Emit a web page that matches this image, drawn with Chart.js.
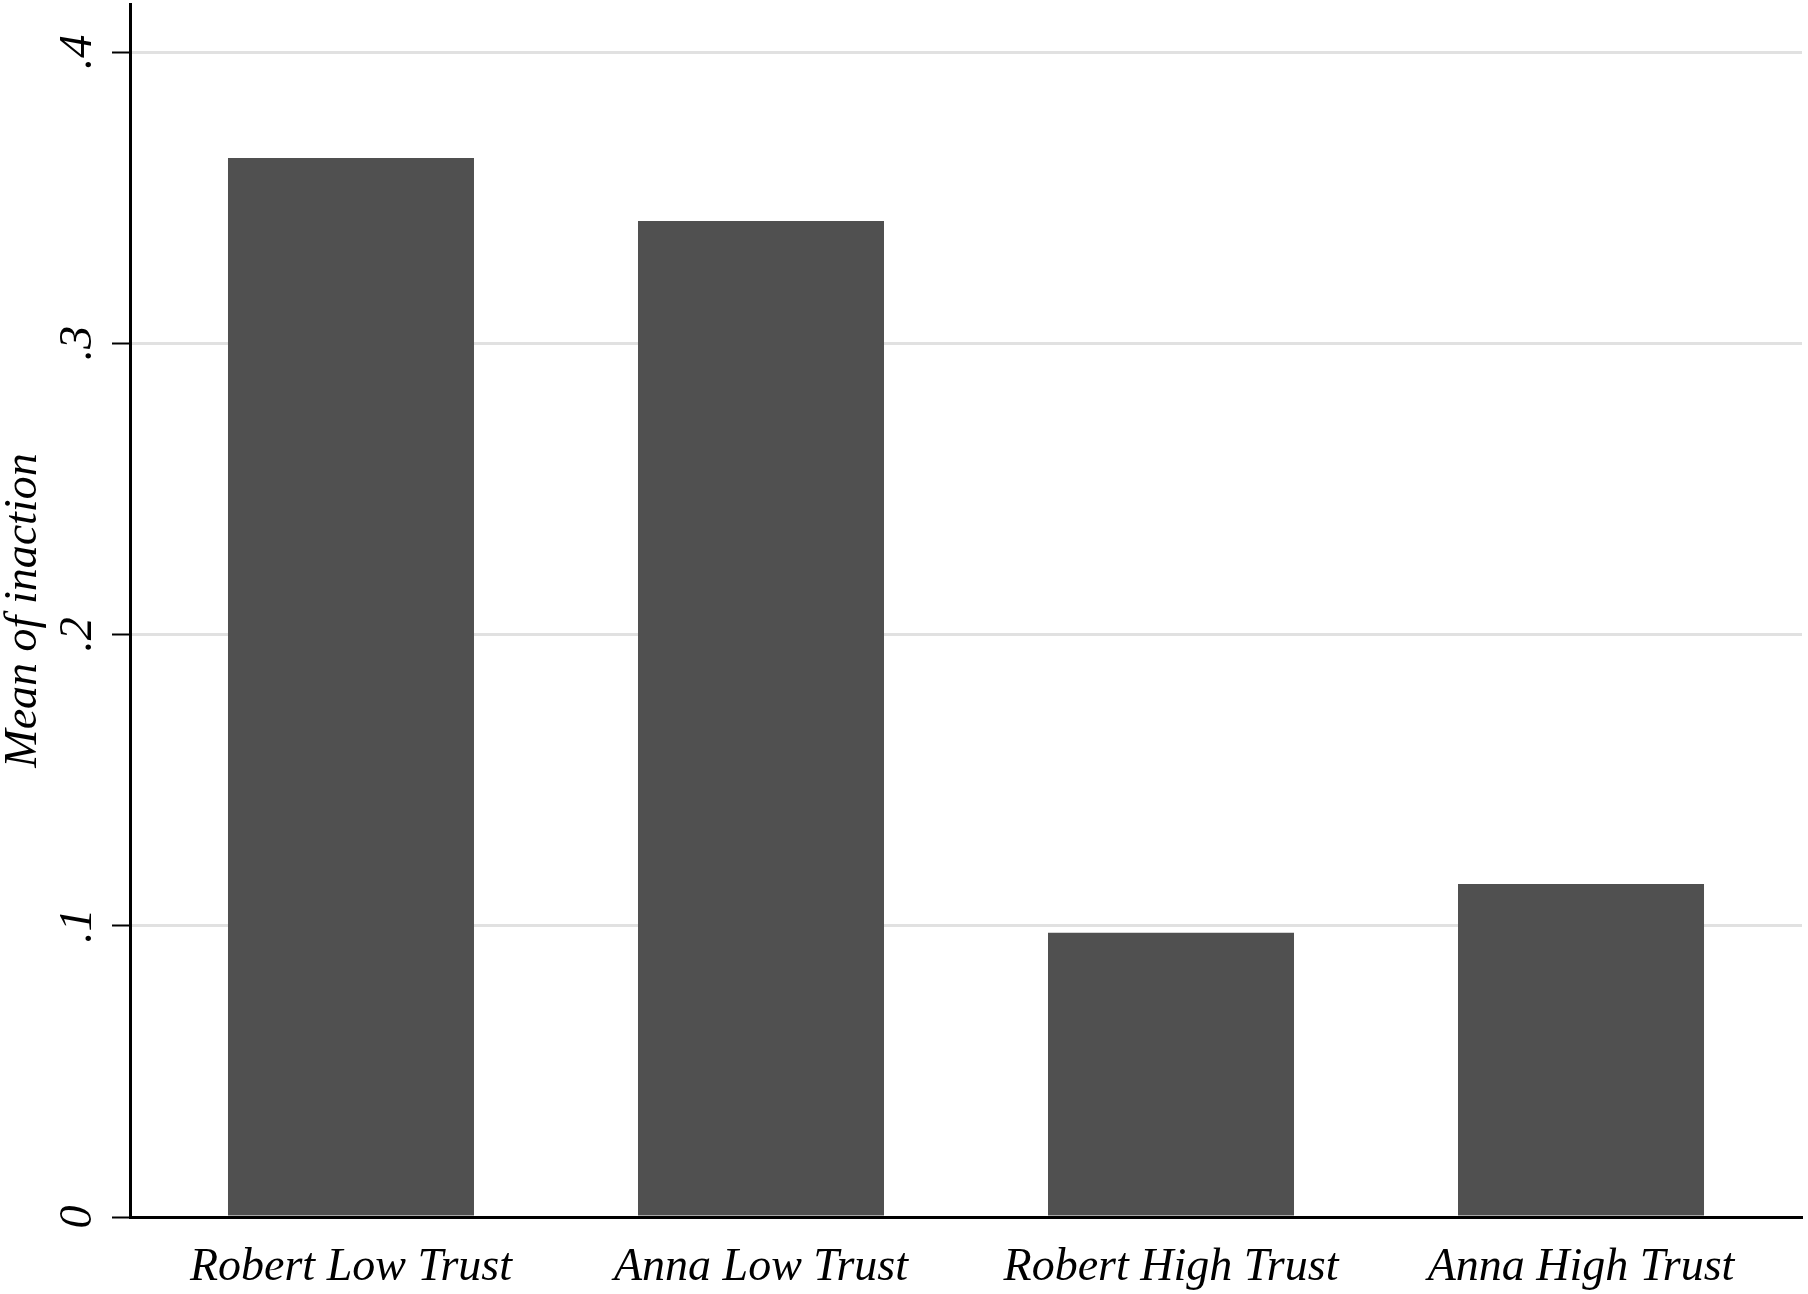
<!DOCTYPE html>
<html>
<head>
<meta charset="utf-8">
<script src="https://cdn.jsdelivr.net/npm/chart.js@4.4.1/dist/chart.umd.min.js"></script>
<style>
  html, body { margin: 0; padding: 0; background: #fff; }
  #wrap { width: 1808px; height: 1294px; }
</style>
</head>
<body>
<div id="wrap"><canvas id="barChart" width="1808" height="1294"></canvas></div>
<script>
const categories = ["Robert Low Trust", "Anna Low Trust", "Robert High Trust", "Anna High Trust"];
const inaction = [0.3636, 0.342, 0.0976, 0.1143]; // mean of inaction per group
const yTicks = [0, 0.1, 0.2, 0.3, 0.4];
const yTickLabels = ["0", ".1", ".2", ".3", ".4"];

const serif = "'Liberation Serif', 'Times New Roman', serif";
const italicFont = { family: serif, style: "italic", size: 46, lineHeight: 1 };

window.onload = function () {
  const ctx = document.getElementById("barChart").getContext("2d");

  new Chart(ctx, {
    type: "bar",
    data: {
      datasets: [
        {
          label: "Mean of inaction",
          data: inaction.map((v, i) => ({ x: i, y: v })),
          backgroundColor: "#505050",
          borderWidth: 0,
          barPercentage: 0.6,
          categoryPercentage: 1,
        },
      ],
    },
    options: {
      responsive: false,
      animation: false,
      devicePixelRatio: 1,
      layout: { padding: { top: 4, right: 6, bottom: 0, left: 0 } },
      plugins: {
        legend: { display: false },
        tooltip: { enabled: false },
      },
      scales: {
        x: {
          type: "linear",
          offset: false,
          min: -0.539,
          max: 3.539,
          afterBuildTicks: (s) => {
            s.ticks = categories.map((c, i) => ({ value: i }));
          },
          afterFit: (s) => {
            s.paddingLeft = 0;
            s.paddingRight = 0;
            s.height = 77;
          },
          grid: { display: false, drawTicks: false, offset: false },
          border: { color: "#000", width: 3 },
          ticks: {
            callback: (v) => categories[v],
            padding: 23,
            maxRotation: 0,
            autoSkip: false,
            color: "#000",
            font: { family: serif, style: "italic", size: 46 },
          },
        },
        y: {
          min: 0,
          max: 0.4165,
          afterBuildTicks: (s) => {
            s.ticks = yTicks.map((v) => ({ value: v }));
          },
          afterFit: (s) => {
            s.paddingTop = 0;
            s.paddingBottom = 0;
            s.width = 130;
          },
          grid: {
            color: "#e1e1e1",
            lineWidth: 3,
            tickLength: 18,
            tickColor: "#000",
            tickWidth: 2,
          },
          border: { color: "#000", width: 3 },
          ticks: {
            callback: (v, i) => yTickLabels[i],
            padding: 16,
            minRotation: 90,
            maxRotation: 90,
            crossAlign: "center",
            color: "#000",
            font: italicFont,
          },
          title: {
            display: true,
            text: "Mean of inaction",
            color: "#000",
            padding: { top: 1, bottom: 1 },
            font: italicFont,
          },
        },
      },
    },
  });
};
</script>
</body>
</html>
